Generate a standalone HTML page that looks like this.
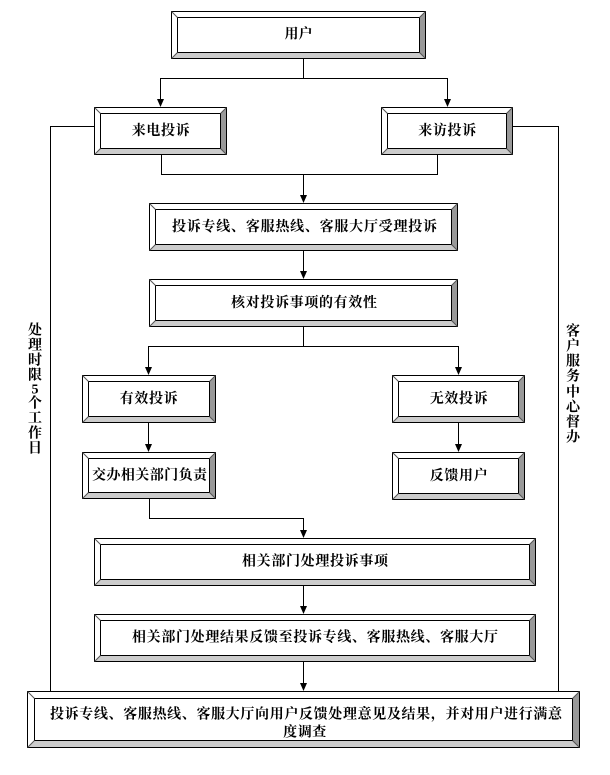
<!DOCTYPE html>
<html><head><meta charset="utf-8"><style>
html,body{margin:0;padding:0;background:#fff;}
svg{display:block;}
text{font-family:"Liberation Serif","Noto Serif CJK SC",serif;font-weight:bold;font-size:14px;fill:#000;}
</style></head><body>
<svg width="610" height="775" viewBox="0 0 610 775" xmlns="http://www.w3.org/2000/svg">
<defs>
<marker id="a" viewBox="0 0 8 9" refX="4" refY="9" markerWidth="8" markerHeight="9" markerUnits="userSpaceOnUse" orient="auto-start-reverse"></marker>
</defs>
<g stroke="#000" stroke-width="1" fill="none" shape-rendering="crispEdges">
<!-- connectors -->
<polyline points="303.5,59 303.5,78.5"/>
<polyline points="160.5,99 160.5,78.5 447.5,78.5 447.5,99"/>
<polyline points="161.5,155 161.5,174.5 437.5,174.5 437.5,155"/>
<polyline points="303.5,174.5 303.5,195"/>
<polyline points="303.5,251 303.5,271"/>
<polyline points="303.5,327 303.5,346.5"/>
<polyline points="148.5,367 148.5,346.5 458.5,346.5 458.5,367"/>
<polyline points="148.5,423 148.5,444"/>
<polyline points="458.5,423 458.5,444"/>
<polyline points="149.5,499 149.5,518.5 303.5,518.5 303.5,530"/>
<polyline points="303.5,586 303.5,606"/>
<polyline points="303.5,662 303.5,683"/>
<polyline points="94,126.5 50.5,126.5 50.5,691"/>
<polyline points="513,126.5 558.5,126.5 558.5,691"/>
</g>
<g fill="#000">
<polygon points="157,99 164,99 160.5,107"/>
<polygon points="444,99 451,99 447.5,107"/>
<polygon points="300,195 307,195 303.5,203"/>
<polygon points="300,271 307,271 303.5,279"/>
<polygon points="145,367 152,367 148.5,375"/>
<polygon points="455,367 462,367 458.5,375"/>
<polygon points="145,444 152,444 148.5,452"/>
<polygon points="455,444 462,444 458.5,452"/>
<polygon points="300,530 307,530 303.5,538"/>
<polygon points="300,606 307,606 303.5,614"/>
<polygon points="300,683 307,683 303.5,691"/>
</g>

<!-- bevel boxes -->
<g id="boxes" stroke-width="1">
</g>

<!-- box 1 用户 -->
<g>
<polygon points="171,11 426,11 420,17 177,17" fill="#fff"/>
<polygon points="171,11 177,17 177,53 171,59" fill="#fff"/>
<polygon points="426,11 426,59 420,53 420,17" fill="#999"/>
<polygon points="171,59 426,59 420,53 177,53" fill="#ccc"/>
<rect x="171.5" y="11.5" width="254" height="47" fill="none" stroke="#000"/>
<rect x="177.5" y="17.5" width="242" height="35" fill="#fff" stroke="#000"/>
<path d="M171.5,11.5 L177.5,17.5 M425.5,11.5 L419.5,17.5 M171.5,58.5 L177.5,52.5 M425.5,58.5 L419.5,52.5" stroke="#555"/>
<text x="298.5" y="35" text-anchor="middle" dominant-baseline="central">用户</text>
</g>

<!-- generic boxes via repeated pattern -->
<g>
<!-- 来电投诉 94,107,227,155 -->
<polygon points="94,107 227,107 221,113 100,113" fill="#fff"/>
<polygon points="94,107 100,113 100,149 94,155" fill="#fff"/>
<polygon points="227,107 227,155 221,149 221,113" fill="#999"/>
<polygon points="94,155 227,155 221,149 100,149" fill="#ccc"/>
<rect x="94.5" y="107.5" width="132" height="47" fill="none" stroke="#000"/>
<rect x="100.5" y="113.5" width="120" height="35" fill="#fff" stroke="#000"/>
<path d="M94.5,107.5 L100.5,113.5 M226.5,107.5 L220.5,113.5 M94.5,154.5 L100.5,148.5 M226.5,154.5 L220.5,148.5" stroke="#555"/>
<text x="161" y="131.5" text-anchor="middle" dominant-baseline="central" letter-spacing="0.6">来电投诉</text>
</g>
<g>
<!-- 来访投诉 381,107,513,155 -->
<polygon points="381,107 513,107 507,113 387,113" fill="#fff"/>
<polygon points="381,107 387,113 387,149 381,155" fill="#fff"/>
<polygon points="513,107 513,155 507,149 507,113" fill="#999"/>
<polygon points="381,155 513,155 507,149 387,149" fill="#ccc"/>
<rect x="381.5" y="107.5" width="131" height="47" fill="none" stroke="#000"/>
<rect x="387.5" y="113.5" width="119" height="35" fill="#fff" stroke="#000"/>
<path d="M381.5,107.5 L387.5,113.5 M512.5,107.5 L506.5,113.5 M381.5,154.5 L387.5,148.5 M512.5,154.5 L506.5,148.5" stroke="#555"/>
<text x="447.5" y="131.5" text-anchor="middle" dominant-baseline="central" letter-spacing="0.6">来访投诉</text>
</g>
<g>
<!-- 149,203,458,251 -->
<polygon points="149,203 458,203 452,209 155,209" fill="#fff"/>
<polygon points="149,203 155,209 155,245 149,251" fill="#fff"/>
<polygon points="458,203 458,251 452,245 452,209" fill="#999"/>
<polygon points="149,251 458,251 452,245 155,245" fill="#ccc"/>
<rect x="149.5" y="203.5" width="308" height="47" fill="none" stroke="#000"/>
<rect x="155.5" y="209.5" width="296" height="35" fill="#fff" stroke="#000"/>
<path d="M149.5,203.5 L155.5,209.5 M457.5,203.5 L451.5,209.5 M149.5,250.5 L155.5,244.5 M457.5,250.5 L451.5,244.5" stroke="#555"/>
<text x="172" y="227.5" dominant-baseline="central" textLength="265" lengthAdjust="spacing">投诉专线、客服热线、客服大厅受理投诉</text>
</g>
<g>
<!-- 149,279,458,327 -->
<polygon points="149,279 458,279 452,285 155,285" fill="#fff"/>
<polygon points="149,279 155,285 155,321 149,327" fill="#fff"/>
<polygon points="458,279 458,327 452,321 452,285" fill="#999"/>
<polygon points="149,327 458,327 452,321 155,321" fill="#ccc"/>
<rect x="149.5" y="279.5" width="308" height="47" fill="none" stroke="#000"/>
<rect x="155.5" y="285.5" width="296" height="35" fill="#fff" stroke="#000"/>
<path d="M149.5,279.5 L155.5,285.5 M457.5,279.5 L451.5,285.5 M149.5,326.5 L155.5,320.5 M457.5,326.5 L451.5,320.5" stroke="#555"/>
<text x="231" y="303.5" dominant-baseline="central" textLength="146" lengthAdjust="spacing">核对投诉事项的有效性</text>
</g>
<g>
<!-- 有效投诉 82,375,216,423 -->
<polygon points="82,375 216,375 210,381 88,381" fill="#fff"/>
<polygon points="82,375 88,381 88,417 82,423" fill="#fff"/>
<polygon points="216,375 216,423 210,417 210,381" fill="#999"/>
<polygon points="82,423 216,423 210,417 88,417" fill="#ccc"/>
<rect x="82.5" y="375.5" width="133" height="47" fill="none" stroke="#000"/>
<rect x="88.5" y="381.5" width="121" height="35" fill="#fff" stroke="#000"/>
<path d="M82.5,375.5 L88.5,381.5 M215.5,375.5 L209.5,381.5 M82.5,422.5 L88.5,416.5 M215.5,422.5 L209.5,416.5" stroke="#555"/>
<text x="149" y="399.5" text-anchor="middle" dominant-baseline="central" letter-spacing="0.6">有效投诉</text>
</g>
<g>
<!-- 无效投诉 392,375,525,423 -->
<polygon points="392,375 525,375 519,381 398,381" fill="#fff"/>
<polygon points="392,375 398,381 398,417 392,423" fill="#fff"/>
<polygon points="525,375 525,423 519,417 519,381" fill="#999"/>
<polygon points="392,423 525,423 519,417 398,417" fill="#ccc"/>
<rect x="392.5" y="375.5" width="132" height="47" fill="none" stroke="#000"/>
<rect x="398.5" y="381.5" width="120" height="35" fill="#fff" stroke="#000"/>
<path d="M392.5,375.5 L398.5,381.5 M524.5,375.5 L518.5,381.5 M392.5,422.5 L398.5,416.5 M524.5,422.5 L518.5,416.5" stroke="#555"/>
<text x="459" y="399.5" text-anchor="middle" dominant-baseline="central" letter-spacing="0.6">无效投诉</text>
</g>
<g>
<!-- 交办 82,452,216,499 -->
<polygon points="82,452 216,452 210,458 88,458" fill="#fff"/>
<polygon points="82,452 88,458 88,493 82,499" fill="#fff"/>
<polygon points="216,452 216,499 210,493 210,458" fill="#999"/>
<polygon points="82,499 216,499 210,493 88,493" fill="#ccc"/>
<rect x="82.5" y="452.5" width="133" height="46" fill="none" stroke="#000"/>
<rect x="88.5" y="458.5" width="121" height="34" fill="#fff" stroke="#000"/>
<path d="M82.5,452.5 L88.5,458.5 M215.5,452.5 L209.5,458.5 M82.5,498.5 L88.5,492.5 M215.5,498.5 L209.5,492.5" stroke="#555"/>
<text x="92" y="476" dominant-baseline="central" textLength="115" lengthAdjust="spacing">交办相关部门负责</text>
</g>
<g>
<!-- 反馈用户 392,452,525,500 -->
<polygon points="392,452 525,452 519,458 398,458" fill="#fff"/>
<polygon points="392,452 398,458 398,494 392,500" fill="#fff"/>
<polygon points="525,452 525,500 519,494 519,458" fill="#999"/>
<polygon points="392,500 525,500 519,494 398,494" fill="#ccc"/>
<rect x="392.5" y="452.5" width="132" height="47" fill="none" stroke="#000"/>
<rect x="398.5" y="458.5" width="120" height="35" fill="#fff" stroke="#000"/>
<path d="M392.5,452.5 L398.5,458.5 M524.5,452.5 L518.5,458.5 M392.5,499.5 L398.5,493.5 M524.5,499.5 L518.5,493.5" stroke="#555"/>
<text x="459" y="476.5" text-anchor="middle" dominant-baseline="central" letter-spacing="0.6">反馈用户</text>
</g>
<g>
<!-- 94,538,536,586 -->
<polygon points="94,538 536,538 530,544 100,544" fill="#fff"/>
<polygon points="94,538 100,544 100,580 94,586" fill="#fff"/>
<polygon points="536,538 536,586 530,580 530,544" fill="#999"/>
<polygon points="94,586 536,586 530,580 100,580" fill="#ccc"/>
<rect x="94.5" y="538.5" width="441" height="47" fill="none" stroke="#000"/>
<rect x="100.5" y="544.5" width="429" height="35" fill="#fff" stroke="#000"/>
<path d="M94.5,538.5 L100.5,544.5 M535.5,538.5 L529.5,544.5 M94.5,585.5 L100.5,579.5 M535.5,585.5 L529.5,579.5" stroke="#555"/>
<text x="242" y="562" dominant-baseline="central" textLength="146" lengthAdjust="spacing">相关部门处理投诉事项</text>
</g>
<g>
<!-- 94,614,536,662 -->
<polygon points="94,614 536,614 530,620 100,620" fill="#fff"/>
<polygon points="94,614 100,620 100,656 94,662" fill="#fff"/>
<polygon points="536,614 536,662 530,656 530,620" fill="#999"/>
<polygon points="94,662 536,662 530,656 100,656" fill="#ccc"/>
<rect x="94.5" y="614.5" width="441" height="47" fill="none" stroke="#000"/>
<rect x="100.5" y="620.5" width="429" height="35" fill="#fff" stroke="#000"/>
<path d="M94.5,614.5 L100.5,620.5 M535.5,614.5 L529.5,620.5 M94.5,661.5 L100.5,655.5 M535.5,661.5 L529.5,655.5" stroke="#555"/>
<text x="132" y="638" dominant-baseline="central" textLength="366" lengthAdjust="spacing">相关部门处理结果反馈至投诉专线、客服热线、客服大厅</text>
</g>
<g>
<!-- final 27,691,580,748 bevel 7 -->
<polygon points="27,691 580,691 573,698 34,698" fill="#fff"/>
<polygon points="27,691 34,698 34,741 27,748" fill="#fff"/>
<polygon points="580,691 580,748 573,741 573,698" fill="#999"/>
<polygon points="27,748 580,748 573,741 34,741" fill="#ccc"/>
<rect x="27.5" y="691.5" width="552" height="56" fill="none" stroke="#000"/>
<rect x="34.5" y="698.5" width="538" height="42" fill="#fff" stroke="#000"/>
<path d="M27.5,691.5 L34.5,698.5 M579.5,691.5 L572.5,698.5 M27.5,747.5 L34.5,740.5 M579.5,747.5 L572.5,740.5" stroke="#555"/>
<text x="50" y="715" dominant-baseline="central" textLength="512" lengthAdjust="spacing">投诉专线、客服热线、客服大厅向用户反馈处理意见及结果，并对用户进行满意</text>
<text x="305" y="733" text-anchor="middle" dominant-baseline="central" letter-spacing="0.6">度调查</text>
</g>

<!-- vertical side labels -->
<g text-anchor="middle" dominant-baseline="central">
<text x="35" y="331">处</text>
<text x="35" y="346">理</text>
<text x="35" y="361">时</text>
<text x="35" y="376">限</text>
<text x="35" y="390">5</text>
<text x="35" y="404">个</text>
<text x="35" y="419">工</text>
<text x="35" y="434">作</text>
<text x="35" y="449">日</text>

<text x="573" y="332">客</text>
<text x="573" y="347">户</text>
<text x="573" y="362">服</text>
<text x="573" y="377">务</text>
<text x="573" y="393">中</text>
<text x="573" y="408">心</text>
<text x="573" y="423">督</text>
<text x="573" y="438">办</text>
</g>
</svg>
</body></html>
